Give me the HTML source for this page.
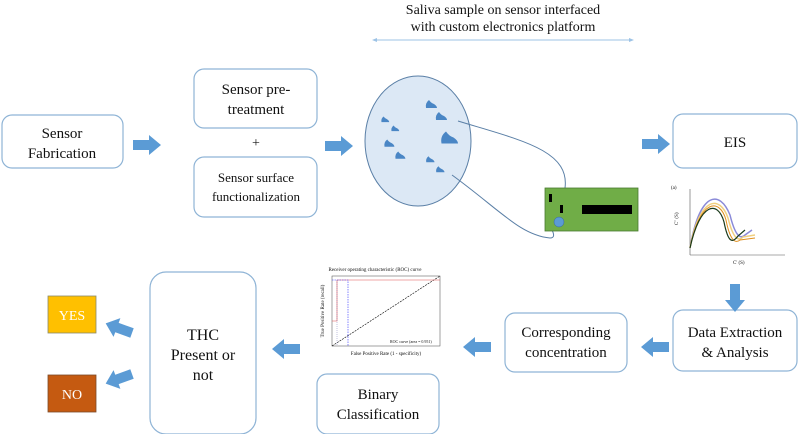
<!DOCTYPE html>
<html><head><style>
html,body{margin:0;padding:0;background:#fff;}
svg{display:block;}
text{font-family:"Liberation Serif",serif;fill:#111;}
</style></head><body>
<svg width="799" height="434" viewBox="0 0 799 434" xmlns="http://www.w3.org/2000/svg">
<defs>
<path id="ar" d="M0,-5 L16,-5 L16,-10 L28,0 L16,10 L16,5 L0,5 Z" fill="#5b9bd5"/>
<path id="bl" d="M-5,3 Q-6,-2 -2,-5 Q0,-2 3,-1 Q6,1 6,3 Z" fill="#4a86c5"/>
</defs>
<text x="503" y="14" font-size="14" text-anchor="middle">Saliva sample on sensor interfaced</text>
<text x="503" y="31" font-size="14" text-anchor="middle">with custom electronics platform</text>
<line x1="374" y1="40" x2="632" y2="40" stroke="#9dc3e6" stroke-width="1"/>
<path d="M372,40 l5,-2 v4z M634,40 l-5,-2 v4z" fill="#9dc3e6"/>

<g fill="#fff" stroke="#8fb4d6" stroke-width="1.2">
<rect x="2" y="115" width="121" height="53" rx="10"/>
<rect x="194" y="69" width="123" height="59" rx="10"/>
<rect x="194" y="157" width="123" height="60" rx="10"/>
<rect x="673" y="114" width="124" height="54" rx="10"/>
<rect x="673" y="310" width="124" height="61" rx="10"/>
<rect x="505" y="313" width="122" height="59" rx="10"/>
<rect x="317" y="374" width="122" height="60" rx="10"/>
<rect x="150" y="272" width="106" height="162" rx="16"/>
</g>
<text x="62" y="138" font-size="15" text-anchor="middle">Sensor</text>
<text x="62" y="158" font-size="15" text-anchor="middle">Fabrication</text>
<text x="256" y="94" font-size="15" text-anchor="middle">Sensor pre-</text>
<text x="256" y="114" font-size="15" text-anchor="middle">treatment</text>
<text x="256" y="147" font-size="14" text-anchor="middle">+</text>
<text x="256" y="182" font-size="13" text-anchor="middle">Sensor surface</text>
<text x="256" y="201" font-size="13" text-anchor="middle">functionalization</text>
<text x="735" y="147" font-size="15" text-anchor="middle">EIS</text>
<text x="735" y="337" font-size="15" text-anchor="middle">Data Extraction</text>
<text x="735" y="357" font-size="15" text-anchor="middle">&amp; Analysis</text>
<text x="566" y="337" font-size="15" text-anchor="middle">Corresponding</text>
<text x="566" y="357" font-size="15" text-anchor="middle">concentration</text>
<text x="378" y="399" font-size="15" text-anchor="middle">Binary</text>
<text x="378" y="419" font-size="15" text-anchor="middle">Classification</text>
<text x="203" y="340" font-size="16" text-anchor="middle">THC</text>
<text x="203" y="360" font-size="16" text-anchor="middle">Present or</text>
<text x="203" y="380" font-size="16" text-anchor="middle">not</text>

<rect x="48" y="296" width="48" height="37" fill="#ffc000" stroke="#8a8a6a" stroke-width="0.8"/>
<text x="72" y="320" font-size="14" text-anchor="middle" style="fill:#fff">YES</text>
<rect x="48" y="375" width="48" height="37" fill="#c55a11" stroke="#7a4a2a" stroke-width="0.8"/>
<text x="72" y="399" font-size="14" text-anchor="middle" style="fill:#fff">NO</text>

<use href="#ar" transform="translate(133,145)"/>
<use href="#ar" transform="translate(325,146)"/>
<use href="#ar" transform="translate(642,144)"/>
<use href="#ar" transform="translate(735,284) rotate(90)"/>
<use href="#ar" transform="translate(669,347) rotate(180)"/>
<use href="#ar" transform="translate(491,347) rotate(180)"/>
<use href="#ar" transform="translate(300,349) rotate(180)"/>
<use href="#ar" transform="translate(132,333) rotate(200)"/>
<use href="#ar" transform="translate(132,374) rotate(160)"/>

<ellipse cx="418" cy="141" rx="53" ry="65" fill="#dce8f5" stroke="#5a7fa6" stroke-width="1"/>
<use href="#bl" transform="translate(431,105)"/>
<use href="#bl" transform="translate(441,117)"/>
<use href="#bl" transform="translate(449,139) scale(1.5)"/>
<use href="#bl" transform="translate(385,120) scale(0.7)"/>
<use href="#bl" transform="translate(395,129) scale(0.7)"/>
<use href="#bl" transform="translate(389,144) scale(0.9)"/>
<use href="#bl" transform="translate(400,156) scale(0.9)"/>
<use href="#bl" transform="translate(430,160) scale(0.75)"/>
<use href="#bl" transform="translate(440,170) scale(0.75)"/>
<path d="M458,121 C520,140 570,150 565,188" fill="none" stroke="#5a7fa6" stroke-width="1"/>
<path d="M452,175 C500,210 520,235 550,238 Q556,238 552,230" fill="none" stroke="#5a7fa6" stroke-width="1"/>
<rect x="545" y="188" width="93" height="43" fill="#70ad47" stroke="#4a7a30" stroke-width="0.8"/>
<rect x="549" y="194" width="3" height="8" fill="#000"/>
<rect x="560" y="205" width="3" height="8" fill="#000"/>
<rect x="582" y="205" width="50" height="9" fill="#000"/>
<circle cx="559" cy="222" r="5" fill="#5b9bd5" stroke="#3a6a9a" stroke-width="0.5"/>

<g font-size="4">
<text x="671" y="189" font-size="5">(a)</text>
<line x1="690" y1="189" x2="690" y2="255" stroke="#555" stroke-width="0.6"/>
<line x1="690" y1="255" x2="785" y2="255" stroke="#555" stroke-width="0.6"/>
<text x="673" y="220" font-size="5" transform="rotate(-90 678 220)">C'' (S)</text>
<text x="733" y="264" font-size="5">C' (S)</text>
<path d="M690,248 C700,190 720,190 730,215 C735,235 740,240 745,235 L752,230" fill="none" stroke="#8a8ad8" stroke-width="1.5"/>
<path d="M690,248 C700,195 720,195 728,218 C733,238 738,242 743,237 L755,235" fill="none" stroke="#f0d080" stroke-width="1.5"/>
<path d="M690,248 C700,198 720,198 726,220 C730,240 735,244 740,240 L755,238" fill="none" stroke="#e09020" stroke-width="1"/>
<path d="M690,248 C700,202 718,200 724,222 C728,242 732,244 738,236 L745,230" fill="none" stroke="#1a3a1a" stroke-width="1.2"/>
</g>

<g>
<text x="375" y="271" font-size="5" text-anchor="middle">Receiver operating characteristic (ROC) curve</text>
<rect x="332" y="276" width="108" height="70" fill="#fff" stroke="#444" stroke-width="0.5"/>
<line x1="332" y1="346" x2="440" y2="276" stroke="#000" stroke-width="0.6" stroke-dasharray="2,1"/>
<path d="M332,321 h5 v-41 h103" fill="none" stroke="#e05050" stroke-width="0.6"/>
<path d="M332,280 h16 v66" fill="none" stroke="#33f" stroke-width="0.6" stroke-dasharray="1.5,1"/>
<line x1="337" y1="280" x2="337" y2="346" stroke="#66a" stroke-width="0.4" stroke-dasharray="1,1"/>
<text x="390" y="343" font-size="4">ROC curve (area = 0.951)</text>
<text x="386" y="355" font-size="5" text-anchor="middle">False Positive Rate (1 - specificity)</text>
<text x="324" y="311" font-size="5" text-anchor="middle" transform="rotate(-90 324 311)">True Positive Rate (recall)</text>
</g>
</svg>
</body></html>
